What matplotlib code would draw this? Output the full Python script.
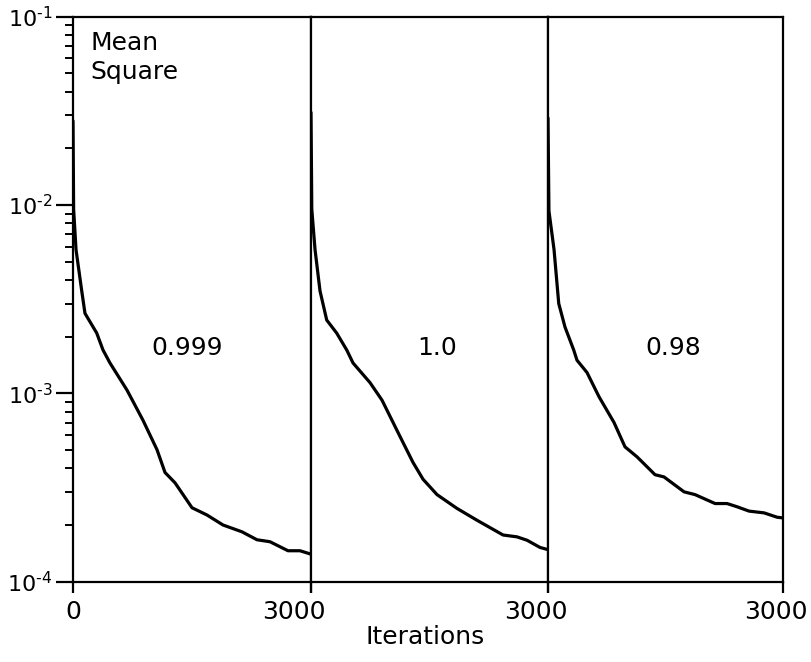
import matplotlib
matplotlib.use("Agg")
import numpy as np
import matplotlib.pyplot as plt
from matplotlib.ticker import LogLocator, NullFormatter, FuncFormatter
from matplotlib.transforms import ScaledTranslation

plt.rcParams['font.family'] = ['DejaVu Sans']
plt.rcParams['mathtext.default'] = 'regular'

# Mean-square error vs. iterations for three forgetting factors
factor_labels = ["0.999", "1.0", "0.98"]

iters_0999 = [0, 8, 38, 110, 151, 299, 378, 466, 681, 882, 1059, 1160, 1286,
              1500, 1689, 1891, 2130, 2319, 2483, 2710, 2861, 3000]
ms_0999 = [0.028, 0.0095, 0.0058, 0.0035, 0.00266, 0.00209, 0.0017, 0.00145,
           0.00104, 0.00072, 0.000502, 0.00038, 0.000335, 0.000247, 0.000226,
           0.0002, 0.000184, 0.000167, 0.000163, 0.000146, 0.000146, 0.00014]

iters_100 = [0, 10, 51, 114, 199, 325, 452, 532, 747, 899, 1127, 1291, 1418,
             1595, 1848, 2101, 2431, 2608, 2735, 2899, 3000]
ms_100 = [0.031, 0.0095, 0.0058, 0.0035, 0.00245, 0.00209, 0.0017, 0.00145,
          0.00114, 0.00092, 0.00059, 0.00043, 0.00035, 0.00029, 0.000245,
          0.000212, 0.000177, 0.000173, 0.000166, 0.000152, 0.000148]

iters_098 = [0, 12, 77, 137, 217, 328, 370, 498, 651, 843, 983, 1137, 1366,
             1481, 1737, 1877, 2133, 2286, 2413, 2567, 2758, 2924, 3000]
ms_098 = [0.029, 0.0093, 0.0058, 0.0030, 0.00225, 0.0017, 0.0015, 0.00129,
          0.00096, 0.00070, 0.00052, 0.00046, 0.00037, 0.00036, 0.0003,
          0.00029, 0.00026, 0.00026, 0.00025, 0.000237, 0.000232, 0.00022,
          0.000218]

series = [(iters_0999, ms_0999), (iters_100, ms_100), (iters_098, ms_098)]
label_pos = [(1437, 0.00174), (1595, 0.00174), (1596, 0.00174)]
x_max = 3000
y_min, y_max = 1e-4, 1e-1

W, H = 811, 662
fig = plt.figure(figsize=(W / 100, H / 100), dpi=100)

lefts = [73, 311, 548]
rights = [311, 548, 783]
top_px, bottom_px = 16.7, 581.7
label_shift = [-17, -12, -7]


def decade_label(v, pos):
    # short hyphen in the exponent, as on plotter-drawn axes
    e = int(round(np.log10(v)))
    sign = "\u2010" if e < 0 else ""
    return "$10^{%s%d}$" % (sign, abs(e))


axes = []
for i in range(3):
    ax = fig.add_axes([lefts[i] / W, 1 - bottom_px / H,
                       (rights[i] - lefts[i]) / W, (bottom_px - top_px) / H])
    axes.append(ax)
    x, y = series[i]
    ax.plot(x, y, color='black', lw=2.3, solid_joinstyle='round',
            solid_capstyle='round')
    ax.set_yscale('log')
    ax.set_xlim(0, x_max)
    ax.set_ylim(y_min, y_max)
    for s in ax.spines.values():
        s.set_linewidth(1.6)
    ax.text(label_pos[i][0], label_pos[i][1], factor_labels[i],
            ha='center', va='center', fontsize=18)

    ax.set_xticks([0, x_max])
    ax.set_xticklabels(["0" if i == 0 else "", "3000"], fontsize=18)
    ax.tick_params(axis='x', direction='out', length=8, width=1.6, pad=5)
    lab = ax.get_xticklabels()[1]
    lab.set_transform(lab.get_transform() +
                      ScaledTranslation(label_shift[i] / 100, 0, fig.dpi_scale_trans))

    if i == 0:
        ax.yaxis.set_major_locator(LogLocator(base=10, numticks=10))
        ax.yaxis.set_minor_locator(LogLocator(base=10, subs=range(2, 10), numticks=20))
        ax.yaxis.set_major_formatter(FuncFormatter(decade_label))
        ax.yaxis.set_minor_formatter(NullFormatter())
        ax.tick_params(axis='y', which='major', direction='out', length=12,
                       width=1.6, labelsize=16, pad=3)
        ax.tick_params(axis='y', which='minor', direction='out', length=6,
                       width=1.4)
    else:
        ax.tick_params(axis='y', which='both', left=False, labelleft=False)
    ax.tick_params(right=False, top=False)

axes[0].text(0.072, 0.975, "Mean\nSquare", transform=axes[0].transAxes,
             ha='left', va='top', fontsize=18, linespacing=1.25)

fig.text(425 / W, 1 - 637 / H, "Iterations", ha='center', va='center', fontsize=18)

fig.savefig("out.png", dpi=100)
